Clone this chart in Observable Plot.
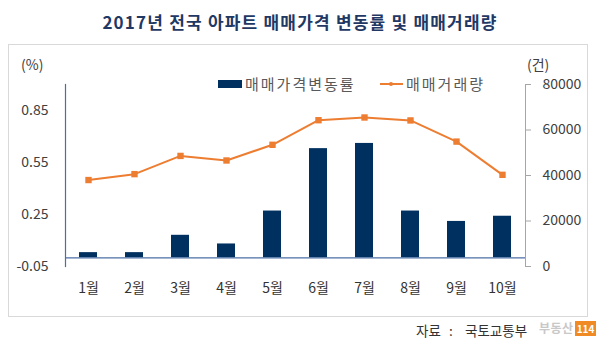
<!DOCTYPE html>
<html><head><meta charset="utf-8">
<script src="https://cdn.jsdelivr.net/npm/d3@7"></script>
<script src="https://cdn.jsdelivr.net/npm/@observablehq/plot@0.6"></script>
<style>
body{margin:0;background:#fff;}
#wrap{position:relative;width:600px;height:353px;font-family:"Noto Sans CJK KR","Noto Sans",sans-serif;overflow:hidden;color:#404040}
#title{position:absolute;left:0;width:600px;top:10px;text-align:center;font-size:17px;letter-spacing:1.2px;font-weight:bold;color:#1f3864;line-height:24px}
#box{position:absolute;left:8px;top:44px;width:580px;height:273px;border:1px solid #d9d9d9;box-sizing:border-box}
#chart{position:absolute;left:0;top:44px}
.unit{position:absolute;font-size:14px;line-height:18px;color:#404040}
.leg{position:absolute;font-size:15px;letter-spacing:2px;line-height:18px;color:#595959;white-space:nowrap}
.src{position:absolute;top:320px;font-size:13.5px;line-height:20px;color:#333;white-space:nowrap}
#logo{position:absolute;left:539px;top:321px;font-size:12px;font-weight:bold;line-height:14px;color:#c8c8c8;white-space:nowrap;letter-spacing:0.5px}
#logo span{background:#f08a24;color:#fff;padding:0 2px;margin-left:1px;font-size:10px;letter-spacing:0}
</style></head><body>
<div id="wrap">
  <div id="title">2017년 전국 아파트 매매가격 변동률 및 매매거래량</div>
  <div id="box"></div>
  <div id="chart"></div>
  <div class="unit" style="left:21px;top:55px">(%)</div>
  <div class="unit" style="left:527px;top:55px">(건)</div>
  <div class="leg" style="left:218px;top:80px;width:24px;height:8px;background:#00305f"></div>
  <div class="leg" style="left:245px;top:75px">매매가격변동률</div>
  <div class="leg" style="left:380px;top:83px;width:23px;height:2px;background:#ed7d31"></div>
  <div class="leg" style="left:389px;top:82px;width:4px;height:4px;background:#ed7d31;border-radius:2px"></div>
  <div class="leg" style="left:406px;top:75px">매매거래량</div>
  <div class="src" style="left:416px">자료</div>
  <div class="src" style="left:449px">:</div>
  <div class="src" style="left:465px">국토교통부</div>
  <div id="logo">부동산<span>114</span></div>
</div>
<script>
const months = ["1월","2월","3월","4월","5월","6월","7월","8월","9월","10월"];
const priceChange = [0.03,0.03,0.13,0.08,0.27,0.63,0.66,0.27,0.21,0.24];
const tradeVolume = [38000,40600,48600,46600,53500,64300,65500,64200,54900,40300];
const leftTicks = [-0.05,0.25,0.55,0.85];
const rightTicks = [0,20000,40000,60000,80000];

const yMin = -0.05, yMax = 1.0, volMax = 80000;
const toLeft = c => yMin + c / volMax * (yMax - yMin);
const toVol = v => Math.round((v - yMin) / (yMax - yMin) * volMax);

const rows = months.map((m, i) => ({month: m, price: priceChange[i], vol: tradeVolume[i]}));

const chart = Plot.plot({
  width: 600,
  height: 273,
  marginTop: 40,
  marginBottom: 51,
  marginLeft: 65,
  marginRight: 75,
  style: {fontFamily: '"Noto Sans CJK KR","Noto Sans",sans-serif', fontSize: "14px", color: "#404040", background: "transparent"},
  x: {domain: months, paddingInner: 0.6, paddingOuter: 0.3},
  y: {domain: [yMin, yMax]},
  marks: [
    Plot.barY(rows, {x: "month", y: "price", fill: "#00305f"}),
    Plot.ruleY([0], {stroke: "#4a6fa5", strokeWidth: 1.2}),
    Plot.frame({anchor: "left", stroke: "#4a6fa5", strokeWidth: 1.2}),
    Plot.frame({anchor: "right", stroke: "#a6a6a6"}),
    Plot.line(rows, {x: "month", y: d => toLeft(d.vol), stroke: "#ed7d31", strokeWidth: 2}),
    Plot.dot(rows, {x: "month", y: d => toLeft(d.vol), symbol: "square", r: 3.6, fill: "#ed7d31"}),
    Plot.axisY(leftTicks, {anchor: "left", tickSize: 0, tickPadding: 17, tickFormat: d => d.toFixed(2), label: null, fontSize: 14, fill: "#404040"}),
    Plot.axisY(rightTicks.map(toLeft), {anchor: "right", tickSize: 5, tickPadding: 12, tickFormat: d => String(toVol(d)), label: null, stroke: "#a6a6a6", fill: "#404040", fontSize: 14}),
    Plot.axisX({anchor: "bottom", tickSize: 0, tickPadding: 17, label: null, fontSize: 14, fill: "#333"})
  ]
});
document.getElementById("chart").appendChild(chart);
</script>
</body></html>
